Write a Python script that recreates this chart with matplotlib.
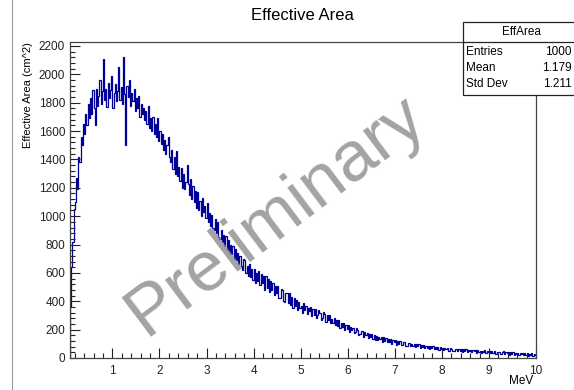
import numpy as np
import matplotlib
matplotlib.use("Agg")
from matplotlib import pyplot as plt
from matplotlib.patches import Rectangle
from matplotlib.lines import Line2D
from matplotlib.ticker import MultipleLocator

plt.rcParams['font.family'] = ['Liberation Sans', 'DejaVu Sans']

# effective area per 0.025 MeV bin (0.10 .. 10.0 MeV)
# one row = 0.2 MeV
eff_area = [
    360, 640, 820, 1050, 1100, 1270, 1190, 1420,
    1380, 1560, 1500, 1650, 1580, 1720, 1640, 1790,
    1690, 1830, 1720, 1890, 1760, 1640, 1900, 1780,
    1850, 1960, 1790, 1880, 2110, 1820, 1900, 1770,
    1940, 1830, 1890, 1990, 1760, 1870, 1930, 1810,
    1880, 2050, 1820, 1910, 1790, 2120, 1860, 1500,
    1920, 1840, 1960, 1780, 1870, 1810, 1900, 1740,
    1830, 1760, 1850, 1700, 1790, 1720, 1760, 1680,
    1740, 1650, 1780, 1620, 1690, 1600, 1700, 1580,
    1650, 1560, 1690, 1530, 1600, 1510, 1580, 1470,
    1540, 1440, 1500, 1560, 1420, 1380, 1470, 1330,
    1420, 1300, 1460, 1280, 1350, 1250, 1340, 1200,
    1300, 1190, 1240, 1360, 1230, 1150, 1260, 1120,
    1210, 1100, 1180, 1060, 1170, 1040, 1110, 1000,
    1130, 1030, 1070, 990, 1090, 960, 1020, 930,
    1010, 920, 900, 980, 880, 960, 850, 840,
    900, 820, 870, 790, 860, 760, 830, 740,
    800, 730, 790, 700, 770, 690, 740, 660,
    720, 650, 620, 700, 690, 600, 650, 580,
    660, 570, 630, 550, 625, 530, 600, 545,
    610, 515, 590, 530, 575, 480, 580, 495,
    555, 465, 540, 480, 530, 445, 510, 455,
    505, 425, 420, 490, 480, 405, 395, 460,
    455, 385, 460, 375, 430, 355, 420, 365,
    410, 340, 395, 350, 370, 320, 385, 335,
    370, 310, 355, 330, 360, 295, 345, 300,
    345, 285, 300, 340, 315, 270, 285, 325,
    310, 255, 305, 265, 300, 245, 275, 250,
    280, 230, 270, 225, 265, 215, 250, 220,
    245, 200, 235, 205, 230, 185, 220, 195,
    215, 175, 180, 210, 195, 160, 170, 190,
    190, 150, 180, 160, 175, 140, 170, 150,
    170, 135, 160, 130, 155, 125, 150, 135,
    150, 115, 145, 120, 140, 110, 135, 115,
    135, 100, 130, 110, 125, 95, 120, 100,
    120, 92, 90, 115, 110, 85, 88, 108,
    108, 82, 102, 86, 100, 76, 98, 84,
    96, 72, 92, 78, 90, 68, 88, 74,
    88, 64, 84, 70, 82, 60, 80, 66,
    80, 56, 76, 62, 74, 54, 72, 60,
    72, 52, 50, 68, 66, 48, 50, 64,
    66, 46, 62, 52, 60, 44, 60, 50,
    62, 42, 58, 48, 57, 40, 56, 46,
    58, 38, 54, 44, 52, 36, 52, 42,
    54, 34, 50, 40, 48, 32, 48, 38,
    50, 30, 29, 45, 44, 28, 30, 42,
    46, 26, 42, 32, 40, 24, 40, 30,
    42, 22, 38, 28, 36, 20, 35, 26,
    38, 18, 34, 24, 32, 16, 31, 22,
    34, 15, 28, 18,
]
e_min, e_max = 0.1, 10.0

stat_names = ['Entries', 'Mean', 'Std Dev']
stat_values = ['1000', '1.179', '1.211']

W, H = 574, 390
fig = plt.figure(figsize=(W / 100, H / 100), dpi=100)
ax = fig.add_axes([70 / W, 32 / H, 466 / W, 316 / H])

edges = np.linspace(e_min, e_max, len(eff_area) + 1)
ax.stairs(eff_area, edges, color='#000099', lw=0.9)

ax.set_xlim(e_min, e_max)
ax.set_ylim(0, 2228)
ax.xaxis.set_major_locator(MultipleLocator(1))
ax.xaxis.set_minor_locator(MultipleLocator(0.2))
ax.yaxis.set_major_locator(MultipleLocator(200))
ax.yaxis.set_minor_locator(MultipleLocator(40))
ax.tick_params(which='both', direction='in', labelsize=8.5, colors='#222222')
ax.tick_params(which='major', length=7, width=0.8)
ax.tick_params(which='minor', length=3.5, width=0.8)
ax.tick_params(axis='x', pad=5)
ax.set_xticks(np.arange(1, 11))
for s in ax.spines.values():
    s.set_color('#444444')
    s.set_linewidth(0.9)

ax.set_ylabel('Effective Area (cm^2)', loc='top', fontsize=8, labelpad=4)
fig.text(533 / W, 1 - 381 / H, 'MeV', ha='right', va='center', fontsize=8.5)
fig.text(302 / W, 1 - 16 / H, 'Effective Area', ha='center', va='center', fontsize=12)

# canvas border on the left
fig.add_artist(Line2D([12 / W, 12 / W], [0, 1], color='#999999', lw=0.8))

# stats box
bx0, by0, by1 = 463, 22, 95
fig.add_artist(Rectangle((bx0 / W, 1 - by1 / H), (W + 10 - bx0) / W, (by1 - by0) / H,
                         transform=fig.transFigure, facecolor='white',
                         edgecolor='#222222', lw=0.9, zorder=5))
fig.add_artist(Line2D([bx0 / W, 1], [1 - 42 / H, 1 - 42 / H], color='#222222', lw=0.9, zorder=6))
fig.text(521 / W, 1 - 32 / H, 'EffArea', ha='center', va='center', fontsize=8.5, zorder=7)
for k, (n, v) in enumerate(zip(stat_names, stat_values)):
    yy = 1 - (52 + 16 * k) / H
    fig.text(466 / W, yy, n, ha='left', va='center', fontsize=8.5, zorder=7)
    fig.text(572 / W, yy, v, ha='right', va='center', fontsize=8.5, zorder=7)

# watermark
fig.text(276 / W, 1 - 216 / H, 'Preliminary', rotation=37, fontsize=51,
         color='#8c8c8c', alpha=0.8, ha='center', va='center', rotation_mode='anchor', zorder=8)

fig.savefig('out.png', dpi=100)
